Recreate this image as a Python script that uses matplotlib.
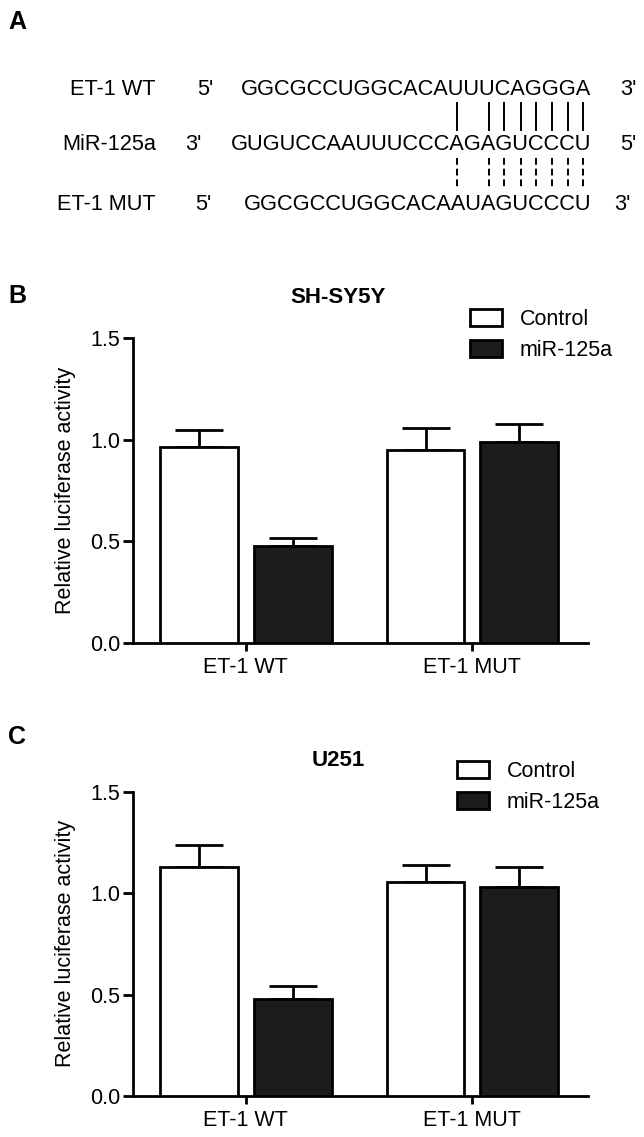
import numpy as np
import matplotlib
matplotlib.use('Agg')
import matplotlib.pyplot as plt
from matplotlib.font_manager import FontProperties

plt.rcParams['font.family'] = ['Liberation Sans', 'DejaVu Sans']

# panel A sequences (miR pairs with the target read right-aligned)
wt_seq = "GGCGCCUGGCACAUUUCAGGGA"
mir_seq = "GUGUCCAAUUUCCCAGAGUCCCU"
mut_seq = "GGCGCCUGGCACAAUAGUCCCU"
row_names = ["ET-1 WT", "MiR-125a", "ET-1 MUT"]
left_ends = ["5'", "3'", "5'"]
right_ends = ["3'", "5'", "3'"]
paired_idx = [14, 16, 17, 18, 19, 20, 21, 22]   # positions in mir_seq

# luciferase data
groups = ["ET-1 WT", "ET-1 MUT"]
series = ["Control", "miR-125a"]
sh_ctrl = [0.962, 0.947]
sh_ctrl_err = [0.088, 0.111]
sh_mir = [0.478, 0.988]
sh_mir_err = [0.038, 0.089]
u251_ctrl = [1.127, 1.053]
u251_ctrl_err = [0.110, 0.084]
u251_mir = [0.480, 1.029]
u251_mir_err = [0.062, 0.101]

W, H = 644, 1137
fig = plt.figure(figsize=(W / 100, H / 100), dpi=100)
FS = 15.5


def px(x, y):
    return x / W, 1 - y / H


# ---- panel A: sequence alignment ----
ova = fig.add_axes([0, 0, 1, 1])
ova.set_xlim(0, W)
ova.set_ylim(H, 0)
ova.axis('off')

seq_fs = 15.7
renderer = fig.canvas.get_renderer()
fp = FontProperties(family='Liberation Sans', size=seq_fs)


def text_w(s):
    w, h, d = renderer.get_text_width_height_descent(s, fp, ismath=False)
    return w


rows_y = [87, 142, 202]
seqs = [wt_seq, mir_seq, mut_seq]
prime_x = [197, 185, 195]
right_prime_x = [620, 620, 614]
seq_right = 591
for i in range(3):
    base = rows_y[i] + 0.358 * seq_fs * 100 / 72
    ova.text(156, base, row_names[i], ha='right', va='baseline', fontsize=seq_fs)
    ova.text(prime_x[i], base, left_ends[i], ha='left', va='baseline', fontsize=seq_fs)
    ova.text(seq_right, base, seqs[i], ha='right', va='baseline', fontsize=seq_fs)
    ova.text(right_prime_x[i], base, right_ends[i], ha='left', va='baseline', fontsize=seq_fs)

mir_left = seq_right - text_w(mir_seq)
for k in paired_idx:
    xc = mir_left + text_w(mir_seq[:k]) + text_w(mir_seq[k]) / 2
    ova.plot([xc, xc], [103, 130], color='black', lw=1.4)
    ova.plot([xc, xc], [158, 187], color='black', lw=1.4, linestyle=(0, (3.5, 2)))

for lab, y in zip(["A", "B", "C"], [22, 296, 737]):
    ova.text(8, y, lab, ha='left', va='center', fontsize=18, fontweight='bold')


# ---- panels B and C ----
def draw_panel(top, bottom, ctrl, ctrl_err, mir, mir_err, title, title_y, leg_x, leg_top):
    ax = fig.add_axes([132.5 / W, 1 - bottom / H, (588 - 132.5) / W, (bottom - top) / H])
    x = np.arange(len(groups))
    off, width = 0.207, 0.344
    b1 = ax.bar(x - off, ctrl, width, color='white', edgecolor='black', linewidth=2,
                label=series[0], zorder=3)
    b2 = ax.bar(x + off, mir, width, color='#1c1c1c', edgecolor='black', linewidth=2,
                label=series[1], zorder=3)
    ax.errorbar(x - off, ctrl, yerr=[np.zeros(len(ctrl)), ctrl_err], fmt='none',
                ecolor='black', elinewidth=2, capsize=17, capthick=2, zorder=2)
    ax.errorbar(x + off, mir, yerr=[np.zeros(len(mir)), mir_err], fmt='none',
                ecolor='black', elinewidth=2, capsize=17, capthick=2, zorder=2)
    ax.set_xlim(-0.5, 1.51)
    ax.set_ylim(0, 1.5)
    ax.set_yticks([0, 0.5, 1.0, 1.5])
    ax.set_yticklabels(['0.0', '0.5', '1.0', '1.5'])
    ax.set_xticks(x)
    ax.set_xticklabels(groups)
    for s in ['top', 'right']:
        ax.spines[s].set_visible(False)
    for s in ['left', 'bottom']:
        ax.spines[s].set_linewidth(2)
    ax.tick_params(axis='y', direction='out', length=7, width=2, labelsize=FS, pad=2)
    ax.tick_params(axis='x', direction='out', length=6, width=2, labelsize=FS, pad=4)
    ax.set_ylabel('Relative luciferase activity', fontsize=FS, labelpad=10)
    tx, ty = px(338, title_y)
    fig.text(tx, ty, title, ha='center', va='center', fontsize=16, fontweight='bold')
    lx, ly = px(leg_x, leg_top)
    ax.legend(handles=[b1, b2], loc='upper left', bbox_to_anchor=(lx, ly),
              bbox_transform=fig.transFigure, frameon=False, fontsize=FS,
              handlelength=1.5, handleheight=0.8, handletextpad=0.8,
              labelspacing=0.47, borderpad=0, borderaxespad=0)
    return ax


draw_panel(338, 643, sh_ctrl, sh_ctrl_err, sh_mir, sh_mir_err, 'SH-SY5Y', 298, 470, 309)
draw_panel(791.7, 1096, u251_ctrl, u251_ctrl_err, u251_mir, u251_mir_err, 'U251', 760, 457, 761)

fig.savefig('out.png', dpi=100)
